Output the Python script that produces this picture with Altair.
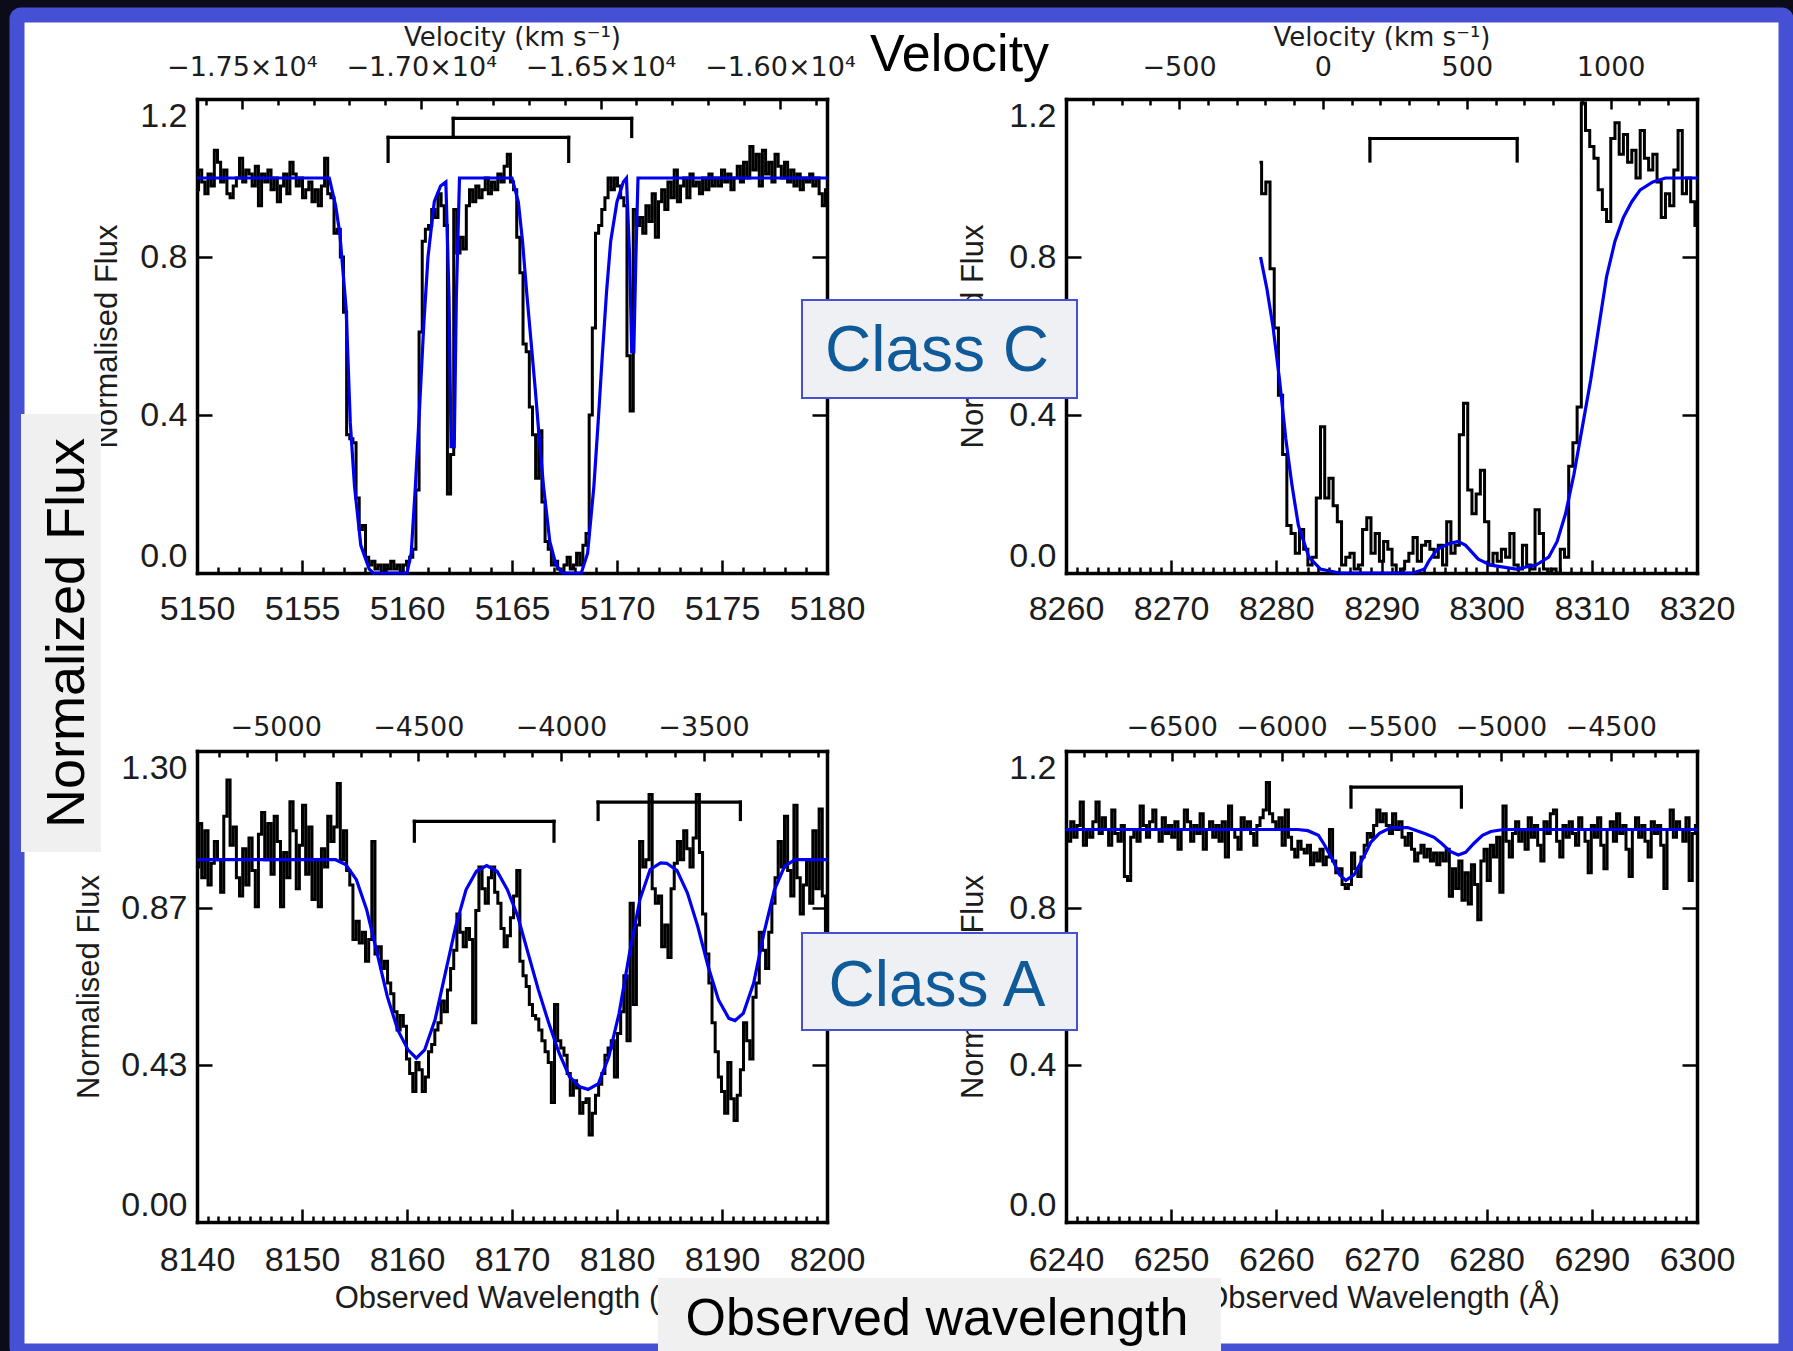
import altair as alt
import pandas as pd

# ------------------------------------------------------------------
# Data
# ------------------------------------------------------------------
# Top-left panel (Class C, 5150-5180 A): observed spectrum on a regular pixel grid
TL_WAVE0, TL_DWAVE = 5150.0, 0.15
TL_FLUX = [
    0.97, 1.02, 0.99, 0.96, 1.01, 0.98, 1.07, 1.04, 0.99, 1.02,
    0.96, 0.95, 0.98, 1.00, 1.05, 0.99, 1.02, 1.01, 0.98, 1.03,
    0.93, 1.01, 0.99, 1.02, 0.97, 1.00, 0.94, 0.98, 1.01, 0.96,
    1.04, 1.01, 0.98, 1.00, 0.95, 0.97, 0.99, 0.94, 0.97, 0.93,
    0.98, 1.05, 0.96, 0.95, 0.86, 0.87, 0.80, 0.66, 0.35, 0.34,
    0.33, 0.19, 0.11, 0.12, 0.04, 0.02, 0.03, 0.01, 0.02, 0.00,
    0.02, 0.01, 0.03, 0.01, 0.02, 0.00, 0.02, 0.03, 0.04, 0.06,
    0.21, 0.61, 0.84, 0.87, 0.88, 0.92, 0.90, 0.96, 0.93, 0.88,
    0.20, 0.30, 0.92, 0.81, 0.85, 0.82, 0.93, 0.97, 0.94, 0.98,
    0.95, 0.97, 1.00, 0.96, 0.99, 0.97, 1.01, 0.99, 1.03, 1.06,
    0.99, 0.97, 0.85, 0.76, 0.58, 0.56, 0.42, 0.35, 0.24, 0.36,
    0.18, 0.08, 0.06, 0.02, 0.03, 0.01, 0.00, 0.02, 0.04, 0.01,
    0.02, 0.05, 0.02, 0.07, 0.10, 0.40, 0.62, 0.86, 0.88, 0.92,
    0.95, 1.00, 0.97, 1.00, 0.98, 0.95, 0.93, 0.55, 0.41, 0.92,
    0.88, 0.90, 0.86, 0.93, 0.89, 0.96, 0.85, 0.94, 0.97, 0.92,
    0.99, 0.95, 1.02, 0.94, 0.98, 1.00, 0.95, 1.01, 0.98, 0.99,
    0.96, 1.00, 0.97, 1.01, 0.98, 1.00, 0.98, 1.02, 0.99, 1.01,
    0.97, 1.00, 1.03, 0.99, 1.04, 1.00, 1.08, 1.02, 1.06, 0.98,
    1.07, 1.01, 1.04, 0.99, 1.06, 1.03, 1.00, 1.04, 0.99, 1.02,
    0.98, 1.01, 0.97, 1.00, 0.99, 1.01, 0.98, 1.00, 0.96, 0.93,
    0.97,
]
TL_MODEL_WAVE = [5150.0, 5156.3, 5156.6, 5156.8, 5157.1, 5157.3, 5157.5, 5157.8, 5158.2, 5158.4,
                 5160.0, 5160.2, 5160.4, 5160.6, 5160.8, 5161.0, 5161.3, 5161.6, 5161.85, 5162.0,
                 5162.1, 5162.25, 5162.35, 5162.5, 5165.0, 5165.3, 5165.5, 5165.7, 5165.9, 5166.1,
                 5166.3, 5166.5, 5166.8, 5167.1, 5167.4, 5168.3, 5168.6, 5168.9, 5169.1, 5169.3,
                 5169.5, 5169.7, 5170.0, 5170.3, 5170.45, 5170.6, 5170.7, 5170.8, 5170.9, 5171.0,
                 5180.0]
TL_MODEL_FLUX = [1.0, 1.0, 0.93, 0.86, 0.67, 0.38, 0.22, 0.07, 0.01, 0.0,
                 0.0, 0.05, 0.22, 0.42, 0.63, 0.80, 0.94, 0.98, 0.99, 0.70,
                 0.32, 0.32, 0.70, 1.0, 1.0, 0.94, 0.84, 0.71, 0.59, 0.47,
                 0.34, 0.22, 0.08, 0.02, 0.0, 0.0, 0.05, 0.22, 0.38, 0.55,
                 0.71, 0.84, 0.94, 0.99, 1.0, 0.80, 0.56, 0.56, 0.80, 1.0,
                 1.0]
TL_BRACKET_LEFT = [5159.1, 5162.2]
TL_BRACKET_RIGHT = [5167.7, 5170.7]
TL_BRACKET_TOP = [1.103, 1.151]
TL_BRACKET_FOOT = [1.042, 1.105]

# Top-right panel (Class C, 8260-8320 A)
TR_WAVE0, TR_DWAVE = 8278.4, 0.4
TR_FLUX = [
    1.04, 0.96, 0.99, 0.77, 0.62, 0.45, 0.30, 0.12, 0.10, 0.05,
    0.11, 0.06, 0.02, 0.04, 0.19, 0.37, 0.19, 0.24, 0.17, 0.13,
    0.02, 0.04, 0.05, 0.01, 0.02, 0.11, 0.14, 0.05, 0.10, 0.03,
    0.08, 0.06, 0.02, 0.00, 0.01, 0.03, 0.05, 0.09, 0.03, 0.07,
    0.08, 0.06, 0.04, 0.07, 0.02, 0.13, 0.05, 0.07, 0.35, 0.43,
    0.21, 0.15, 0.20, 0.26, 0.13, 0.02, 0.05, 0.03, 0.06, 0.04,
    0.10, 0.02, 0.01, 0.07, 0.02, 0.01, 0.16, 0.10, 0.01, 0.00,
    0.01, 0.00, 0.06, 0.04, 0.27, 0.33, 0.42, 1.19, 1.12, 1.08,
    1.05, 0.97, 0.92, 0.89, 1.10, 1.14, 1.06, 1.11, 1.04, 1.07,
    1.00, 1.12, 1.05, 1.02, 1.06, 0.99, 0.90, 0.96, 0.93, 1.02,
    1.12, 0.96, 1.00, 0.94, 0.88,
]
TR_MODEL_WAVE = [8278.5, 8279.1, 8279.7, 8280.3, 8280.9, 8281.5, 8282.1, 8283.1, 8284.2, 8286.0,
                 8293.0, 8294.1, 8294.5, 8295.3, 8296.5, 8297.3, 8298.0, 8299.2, 8300.4, 8302.8,
                 8304.7, 8305.9, 8306.7, 8307.5, 8308.3, 8309.1, 8309.9, 8310.7, 8311.4, 8312.2,
                 8313.0, 8313.8, 8314.6, 8315.8, 8317.0, 8320.0]
TR_MODEL_FLUX = [0.80, 0.72, 0.62, 0.49, 0.34, 0.22, 0.12, 0.04, 0.01, 0.0,
                 0.0, 0.01, 0.03, 0.06, 0.075, 0.08, 0.07, 0.035, 0.02, 0.01,
                 0.02, 0.04, 0.08, 0.15, 0.25, 0.37, 0.49, 0.63, 0.75, 0.84,
                 0.90, 0.94, 0.97, 0.99, 1.0, 1.0]
TR_BRACKET_LEFT = [8288.9]
TR_BRACKET_RIGHT = [8302.9]
TR_BRACKET_TOP = [1.100]
TR_BRACKET_FOOT = [1.043]

# Bottom-left panel (Class A, 8140-8200 A)
BL_WAVE0, BL_DWAVE = 8140.0, 0.3
BL_FLUX = [
    0.98, 1.10, 0.95, 1.08, 0.93, 0.99, 1.05, 1.00, 0.91, 1.12,
    1.22, 1.04, 1.09, 0.95, 0.90, 1.03, 0.93, 1.06, 0.97, 0.87,
    1.07, 1.13, 1.00, 1.10, 0.96, 1.12, 1.05, 0.87, 1.02, 0.95,
    1.16, 1.08, 0.92, 1.04, 1.15, 0.96, 1.09, 0.89, 1.00, 0.87,
    1.03, 0.98, 1.12, 1.05, 1.09, 1.21, 1.00, 1.08, 0.97, 0.93,
    0.78, 0.83, 0.77, 0.80, 0.72, 0.78, 1.05, 0.74, 0.76, 0.70,
    0.72, 0.66, 0.63, 0.58, 0.53, 0.57, 0.54, 0.45, 0.41, 0.36,
    0.44, 0.42, 0.36, 0.40, 0.47, 0.49, 0.53, 0.55, 0.61, 0.58,
    0.64, 0.70, 0.75, 0.85, 0.80, 0.76, 0.81, 0.78, 0.55, 0.86,
    0.98, 0.92, 0.88, 0.95, 0.98, 0.91, 0.88, 0.81, 0.76, 0.79,
    0.84, 0.90, 0.97, 0.72, 0.68, 0.65, 0.60, 0.57, 0.56, 0.53,
    0.50, 0.47, 0.44, 0.33, 0.60, 0.50, 0.48, 0.46, 0.41, 0.35,
    0.39, 0.37, 0.30, 0.33, 0.34, 0.24, 0.30, 0.35, 0.38, 0.41,
    0.46, 0.48, 0.50, 0.40, 0.52, 0.58, 0.68, 0.50, 0.88, 0.60,
    0.82, 1.05, 0.98, 1.00, 1.18, 0.92, 0.88, 0.90, 0.76, 0.82,
    0.73, 0.92, 0.99, 1.05, 1.00, 1.08, 1.03, 0.98, 1.06, 1.18,
    1.02, 0.85, 0.74, 0.66, 0.55, 0.47, 0.40, 0.36, 0.30, 0.44,
    0.34, 0.28, 0.35, 0.42, 0.55, 0.50, 0.45, 0.62, 0.66, 0.80,
    0.75, 0.70, 0.80, 0.88, 0.95, 1.05, 0.98, 1.12, 0.97, 0.90,
    1.15, 0.95, 0.85, 0.93, 1.00, 0.88, 1.08, 0.92, 1.14, 0.90,
    0.78,
]
BL_MODEL_WAVE = [8140.0, 8153.2, 8154.19, 8155.18, 8156.16, 8157.15, 8158.13, 8159.12, 8160.1, 8160.89,
                 8161.68, 8162.67, 8163.65, 8164.64, 8165.62, 8166.61, 8167.59, 8168.58, 8169.56, 8170.55,
                 8171.53, 8172.52, 8173.5, 8174.49, 8175.48, 8176.46, 8177.25, 8178.23, 8179.22, 8180.2,
                 8181.19, 8182.18, 8183.16, 8184.15, 8184.74, 8185.72, 8186.71, 8187.69, 8188.68, 8189.67,
                 8190.65, 8191.24, 8192.03, 8193.01, 8194.0, 8194.99, 8195.97, 8196.96, 8200.0]
BL_MODEL_FLUX = [1.0, 1.0, 0.986, 0.945, 0.862, 0.742, 0.622, 0.53, 0.475, 0.452,
                 0.475, 0.558, 0.687, 0.816, 0.917, 0.968, 0.984, 0.968, 0.917, 0.844,
                 0.742, 0.64, 0.549, 0.466, 0.401, 0.373, 0.366, 0.382, 0.456, 0.576,
                 0.742, 0.89, 0.973, 0.991, 0.99, 0.97, 0.908, 0.816, 0.705, 0.613,
                 0.562, 0.556, 0.576, 0.659, 0.798, 0.917, 0.982, 1.0, 1.0]
BL_BRACKET_LEFT = [8160.7, 8178.2]
BL_BRACKET_RIGHT = [8174.0, 8191.75]
BL_BRACKET_TOP = [1.106, 1.159]
BL_BRACKET_FOOT = [1.051, 1.111]

# Bottom-right panel (Class A, 6240-6300 A)
BR_WAVE0, BR_DWAVE = 6240.0, 0.3
BR_FLUX = [
    1.00, 0.97, 1.02, 0.98, 1.01, 1.07, 0.96, 1.00, 0.98, 1.02,
    1.07, 0.99, 1.03, 1.00, 0.96, 1.05, 0.99, 0.97, 1.01, 0.88,
    0.87, 0.98, 1.00, 0.97, 1.06, 1.01, 0.98, 1.02, 1.05, 1.00,
    0.97, 1.03, 0.99, 1.01, 0.98, 1.02, 0.95, 1.00, 1.05, 1.02,
    0.97, 1.01, 0.99, 1.04, 0.95, 1.00, 1.02, 0.98, 1.01, 0.97,
    1.02, 0.93, 1.06, 1.00, 0.98, 0.95, 1.03, 1.00, 1.02, 0.99,
    0.96, 1.01, 1.03, 1.05, 1.12, 1.04, 1.02, 1.00, 1.03, 0.96,
    1.05, 0.98, 0.95, 0.93, 0.97, 0.95, 0.94, 0.96, 0.91, 0.94,
    0.92, 0.95, 0.91, 0.93, 1.00, 0.92, 0.89, 0.90, 0.86, 0.85,
    0.86, 0.94, 0.90, 0.88, 0.93, 0.96, 0.99, 0.98, 1.01, 1.05,
    1.02, 1.04, 1.01, 0.99, 1.04, 1.00, 1.02, 0.98, 0.96, 0.99,
    0.95, 0.92, 0.94, 0.96, 0.93, 0.95, 0.92, 0.94, 0.91, 0.94,
    0.92, 0.95, 0.83, 0.90, 0.85, 0.92, 0.82, 0.89, 0.81, 0.91,
    0.86, 0.77, 0.92, 0.95, 0.87, 0.96, 0.93, 0.98, 0.84, 1.06,
    0.97, 0.93, 0.99, 1.02, 0.97, 1.00, 0.95, 1.03, 0.98, 1.01,
    0.96, 0.92, 1.02, 0.99, 1.04, 1.05, 0.97, 0.93, 1.01, 0.98,
    1.02, 0.99, 0.96, 1.03, 1.00, 0.97, 0.89, 1.01, 0.98, 1.03,
    0.96, 0.90, 1.00, 1.02, 0.97, 1.04, 0.99, 1.01, 0.95, 0.88,
    1.00, 1.03, 0.98, 1.01, 0.97, 0.93, 1.02, 0.99, 1.01, 0.96,
    0.85, 1.00, 1.05, 0.98, 1.02, 1.00, 0.97, 1.03, 0.87, 0.99,
    1.01,
]
BR_MODEL_WAVE = [6240.0, 6262.0, 6263.0, 6264.0, 6264.6, 6265.4, 6266.0, 6266.6, 6267.4, 6268.2,
                 6269.0, 6269.8, 6270.9, 6272.5, 6274.1, 6275.0, 6275.7, 6276.5, 6277.3, 6278.0,
                 6278.8, 6279.6, 6280.4, 6281.6, 6300.0]
BR_MODEL_FLUX = [1.0, 1.0, 0.997, 0.985, 0.96, 0.92, 0.885, 0.87, 0.885, 0.925,
                 0.968, 0.99, 1.005, 1.005, 0.99, 0.98, 0.965, 0.945, 0.935, 0.942,
                 0.965, 0.985, 0.995, 1.0, 1.0]
BR_BRACKET_LEFT = [6267.1]
BR_BRACKET_RIGHT = [6277.6]
BR_BRACKET_TOP = [1.108]
BR_BRACKET_FOOT = [1.057]

# Axis extents and tick labels
TL_WAVE_DOM, TL_VEL_DOM = [5150, 5180], [-17625, -15869]
TR_WAVE_DOM, TR_VEL_DOM = [8260, 8320], [-893, 1300]
BL_WAVE_DOM, BL_VEL_DOM = [8140, 8200], [-5276, -3067]
BR_WAVE_DOM, BR_VEL_DOM = [6240, 6300], [-6982, -4107]
TL_WAVE_TICKS = [5150, 5155, 5160, 5165, 5170, 5175, 5180]
TR_WAVE_TICKS = [8260, 8270, 8280, 8290, 8300, 8310, 8320]
BL_WAVE_TICKS = [8140, 8150, 8160, 8170, 8180, 8190, 8200]
BR_WAVE_TICKS = [6240, 6250, 6260, 6270, 6280, 6290, 6300]
TL_VEL_TICKS = [-17500, -17000, -16500, -16000]
TR_VEL_TICKS = [-500, 0, 500, 1000]
BL_VEL_TICKS = [-5000, -4500, -4000, -3500]
BR_VEL_TICKS = [-6500, -6000, -5500, -5000, -4500]
FLUX_TICKS_12 = [0.0, 0.4, 0.8, 1.2]
FLUX_TICKS_13 = [0.0, 1.3 / 3, 2.6 / 3, 1.3]

# ------------------------------------------------------------------
# Layout (page pixels)
# ------------------------------------------------------------------
CANVAS_W, CANVAS_H = 1793, 1351
PAD_L, PAD_T, PAD_R = 17, 15, 7
W = CANVAS_W - PAD_L - PAD_R
H = CANVAS_H - PAD_T

FONT = "Liberation Sans"
FONT_TOP = "DejaVu Sans"
INK = "#1c1c1c"
FIT_BLUE = "#0000f0"
FRAME_BLUE = "#4650d4"
CLASS_BLUE = "#0f5a99"


def grid(w0, dw, n):
    return [round(w0 + dw * i, 3) for i in range(n)]


PANELS = [
    dict(box=(197, 827, 99, 573), wave_dom=TL_WAVE_DOM, flux_dom=[0, 1.2],
         wave=grid(TL_WAVE0, TL_DWAVE, len(TL_FLUX)), flux=TL_FLUX,
         mwave=TL_MODEL_WAVE, mflux=TL_MODEL_FLUX,
         br=(TL_BRACKET_LEFT, TL_BRACKET_RIGHT, TL_BRACKET_TOP, TL_BRACKET_FOOT),
         wave_major=TL_WAVE_TICKS, wave_minor=[w for w in range(5151, 5180) if w % 5],
         flux_labels=FLUX_TICKS_12, flux_fmt=".1f",
         vel_dom=TL_VEL_DOM, vel_major=TL_VEL_TICKS,
         vel_minor=[v for v in range(-17600, -15800, 100) if v % 500],
         vel_expr="'\u2212' + format(abs(datum.value) / 10000, '.2f') + '\u00d710\u2074'",
         vel_title="Velocity (km s\u207b\u00b9)", vel_pad=18, wave_pad=19, ytitle_dx=-81),
    dict(box=(1066, 1697, 99, 573), wave_dom=TR_WAVE_DOM, flux_dom=[0, 1.2],
         wave=grid(TR_WAVE0, TR_DWAVE, len(TR_FLUX)), flux=TR_FLUX,
         mwave=TR_MODEL_WAVE, mflux=TR_MODEL_FLUX,
         br=(TR_BRACKET_LEFT, TR_BRACKET_RIGHT, TR_BRACKET_TOP, TR_BRACKET_FOOT),
         wave_major=TR_WAVE_TICKS, wave_minor=[w for w in range(8261, 8320) if w % 10],
         flux_labels=FLUX_TICKS_12, flux_fmt=".1f",
         vel_dom=TR_VEL_DOM, vel_major=TR_VEL_TICKS,
         vel_minor=[v for v in range(-800, 1301, 100) if v % 500],
         vel_title="Velocity (km s\u207b\u00b9)", vel_pad=18, wave_pad=19, ytitle_dx=-84),
    dict(box=(197, 827, 751, 1222), wave_dom=BL_WAVE_DOM, flux_dom=[0, 1.3],
         wave=grid(BL_WAVE0, BL_DWAVE, len(BL_FLUX)), flux=BL_FLUX,
         mwave=BL_MODEL_WAVE, mflux=BL_MODEL_FLUX,
         br=(BL_BRACKET_LEFT, BL_BRACKET_RIGHT, BL_BRACKET_TOP, BL_BRACKET_FOOT),
         wave_major=BL_WAVE_TICKS, wave_minor=[w for w in range(8141, 8200) if w % 10],
         flux_labels=FLUX_TICKS_13, flux_fmt=".2f",
         vel_dom=BL_VEL_DOM, vel_major=BL_VEL_TICKS,
         vel_minor=[v for v in range(-5200, -3000, 100) if v % 500],
         wave_title="Observed Wavelength (\u00c5)", vel_pad=10, wave_pad=21, ytitle_dx=-99),
    dict(box=(1066, 1697, 751, 1222), wave_dom=BR_WAVE_DOM, flux_dom=[0, 1.2],
         wave=grid(BR_WAVE0, BR_DWAVE, len(BR_FLUX)), flux=BR_FLUX,
         mwave=BR_MODEL_WAVE, mflux=BR_MODEL_FLUX,
         br=(BR_BRACKET_LEFT, BR_BRACKET_RIGHT, BR_BRACKET_TOP, BR_BRACKET_FOOT),
         wave_major=BR_WAVE_TICKS, wave_minor=[w for w in range(6241, 6300) if w % 10],
         flux_labels=FLUX_TICKS_12, flux_fmt=".1f",
         vel_dom=BR_VEL_DOM, vel_major=BR_VEL_TICKS,
         vel_minor=[v for v in range(-6900, -4100, 100) if v % 500],
         wave_title="Observed Wavelength (\u00c5)", vel_pad=10, wave_pad=21, ytitle_dx=-84),
]


def build_panel(p):
    L, R, T, B = p["box"]
    gL, gR, gT, gB = L - PAD_L, R - PAD_L, T - PAD_T, B - PAD_T
    xs = alt.Scale(domain=p["wave_dom"], range=[gL, gR], nice=False, zero=False)
    ys = alt.Scale(domain=p["flux_dom"], range=[gB, gT], nice=False, zero=False)
    vs = alt.Scale(domain=p["vel_dom"], range=[gL, gR], nice=False, zero=False)
    flux_inner = p["flux_labels"][1:-1]

    bare = dict(labelOverlap=False, ticks=False, tickSize=0, domain=False, grid=False, labelColor=INK)
    lab = dict(labelFont=FONT, labelFontSize=34, **bare)
    lab_top = dict(labelFont=FONT_TOP, labelFontSize=27, **bare)
    ttl = dict(titleFont=FONT, titleFontSize=31, titleColor=INK, titleFontWeight="normal")
    ttl_top = dict(titleFont=FONT_TOP, titleFontSize=26, titleColor=INK, titleFontWeight="normal")
    frame = dict(labels=False, grid=False, tickColor="black", tickWidth=2.5,
                 domainColor="black", domainWidth=3.5, domainCap="square")

    xb = dict(orient="bottom", offset=gB - H, values=p["wave_major"], format="d",
              labelPadding=p["wave_pad"], labelFlush=False, **lab)
    if "wave_title" in p:
        xb.update(title=p["wave_title"], titleX=(gL + gR) / 2, titleY=76,
                  titleAlign="center", titleBaseline="middle", **ttl)
    else:
        xb["title"] = None
    yl = dict(orient="left", offset=-gL, values=p["flux_labels"], format=p["flux_fmt"],
              labelPadding=10, labelFlush=True, title="Normalised Flux",
              titleX=p["ytitle_dx"], titleY=(gT + gB) / 2, titleAngle=270,
              titleAlign="center", titleBaseline="alphabetic", **lab, **ttl)

    spec_df = pd.DataFrame({"wave": p["wave"], "flux": p["flux"]})
    model_df = pd.DataFrame({"wave": p["mwave"], "flux": p["mflux"]})
    segs = []
    for l, r, t, f in zip(*p["br"]):
        segs += [dict(x0=l, x1=r, y0=t, y1=t), dict(x0=l, x1=l, y0=t, y1=f),
                 dict(x0=r, x1=r, y0=t, y1=f)]
    br_df = pd.DataFrame(segs)

    c_spec = alt.Chart(spec_df).mark_line(color="black", strokeWidth=3, interpolate="step").encode(
        x=alt.X("wave:Q", scale=xs, axis=alt.Axis(**xb)),
        y=alt.Y("flux:Q", scale=ys, axis=alt.Axis(**yl)),
    )
    c_model = alt.Chart(model_df).mark_line(color=FIT_BLUE, strokeWidth=3.2).encode(
        x=alt.X("wave:Q", scale=xs, axis=alt.Axis(orient="top", offset=-gB, values=p["wave_major"],
                                                  ticks=True, tickSize=13, domain=True, title=None, **frame)),
        y=alt.Y("flux:Q", scale=ys, axis=alt.Axis(orient="right", offset=gL - W, values=flux_inner,
                                                  ticks=True, tickSize=15, domain=True, title=None, **frame)),
    )
    c_br = alt.Chart(br_df).mark_rule(color="black", strokeWidth=3.2, strokeCap="square").encode(
        x=alt.X("x0:Q", scale=xs, axis=alt.Axis(orient="top", offset=-gB, values=p["wave_minor"],
                                                ticks=True, tickSize=6, domain=False, title=None, **frame)),
        x2="x1:Q",
        y=alt.Y("y0:Q", scale=ys, axis=alt.Axis(orient="left", offset=-gR, values=flux_inner,
                                                ticks=True, tickSize=15, domain=True, title=None, **frame)),
        y2="y1:Q",
    )

    vel_df = pd.DataFrame({"vel": p["vel_major"]})
    vlab = dict(orient="top", offset=-gT, values=p["vel_major"], labelPadding=p["vel_pad"],
                labelFlush=False, **lab_top)
    if "vel_expr" in p:
        vlab["labelExpr"] = p["vel_expr"]
    else:
        vlab["format"] = "d"
    if "vel_title" in p:
        vlab.update(title=p["vel_title"], titleX=(gL + gR) / 2, titleY=-54,
                    titleAlign="center", titleBaseline="alphabetic", **ttl_top)
    else:
        vlab["title"] = None
    c_v1 = alt.Chart(vel_df).mark_point(opacity=0).encode(
        x=alt.X("vel:Q", scale=vs, axis=alt.Axis(**vlab)))
    c_v2 = alt.Chart(vel_df).mark_point(opacity=0).encode(
        x=alt.X("vel:Q", scale=vs, axis=alt.Axis(orient="bottom", offset=gT - H, values=p["vel_major"],
                                                 ticks=True, tickSize=10, domain=True, title=None, **frame)))
    c_v3 = alt.Chart(vel_df).mark_point(opacity=0).encode(
        x=alt.X("vel:Q", scale=vs, axis=alt.Axis(orient="bottom", offset=gT - H, values=p["vel_minor"],
                                                 ticks=True, tickSize=6, domain=False, title=None, **frame)))
    return [c_spec, c_model, c_br, c_v1, c_v2, c_v3]


ONE = alt.Data(values=[{"k": 0}])


def rect(x1, y1, x2, y2, fill, stroke=None, sw=1):
    kw = dict(fill=fill)
    if stroke:
        kw.update(stroke=stroke, strokeWidth=sw)
    else:
        kw.update(strokeWidth=0)
    return alt.Chart(ONE).mark_rect(**kw).encode(
        x=alt.value(x1 - PAD_L), x2=alt.value(x2 - PAD_L),
        y=alt.value(y1 - PAD_T), y2=alt.value(y2 - PAD_T))


def label(text, x, y, size, color, angle=0):
    return alt.Chart(ONE).mark_text(text=text, font=FONT, fontSize=size, color=color,
                                    align="center", baseline="alphabetic", angle=angle).encode(
        x=alt.value(x - PAD_L), y=alt.value(y - PAD_T))


layers = []
for panel in PANELS:
    layers += build_panel(panel)

layers += [
    label("Velocity", 959.5, 71, 52, "black"),
    rect(802, 300, 1077, 398, "#eff0f4", FRAME_BLUE, 2),
    label("Class C", 937, 371, 64, CLASS_BLUE),
    rect(802, 933, 1077, 1030, "#eff0f4", FRAME_BLUE, 2),
    label("Class A", 937, 1006, 64, CLASS_BLUE),
    rect(21, 414, 101, 852, "#f0f0f0"),
    label("Normalized Flux", 84, 633, 54, "black", angle=270),
    rect(658, 1278, 1221, 1351, "#f0f0f0"),
    label("Observed wavelength", 937, 1335, 52, "black"),
]

chart = (
    alt.layer(*layers)
    .resolve_scale(x="independent", y="independent")
    .resolve_axis(x="independent", y="independent")
    .properties(width=W, height=H,
                padding={"left": PAD_L, "top": PAD_T, "right": PAD_R, "bottom": 0},
                autosize=alt.AutoSizeParams(type="none"),
                background="#0b0b1a")
    .configure_view(fill="white", stroke=FRAME_BLUE, strokeWidth=15, cornerRadius=4)
)

chart.save("out.html", embed_options={"renderer": "svg", "actions": False})
